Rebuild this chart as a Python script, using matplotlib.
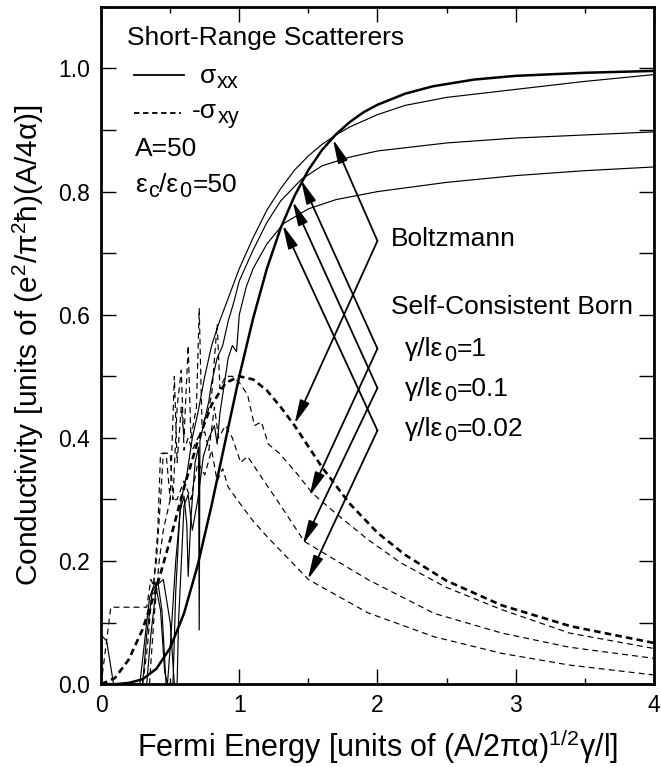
import matplotlib
matplotlib.use("Agg")
from matplotlib import pyplot as plt
from matplotlib.ticker import MultipleLocator
from matplotlib.transforms import offset_copy

plt.rcParams['font.family'] = ['Liberation Sans', 'DejaVu Sans']
plt.rcParams['mathtext.fontset'] = 'custom'
plt.rcParams['mathtext.rm'] = 'Liberation Sans'
plt.rcParams['mathtext.it'] = 'Liberation Sans'

# Boltzmann
boltz_xx_x = [0.0, 0.1, 0.2, 0.3, 0.4, 0.5, 0.6, 0.7, 0.8, 0.9, 1.0, 1.1, 1.2, 1.3, 1.4, 1.5,
              1.6, 1.7, 1.8, 1.9, 2.0, 2.2, 2.4, 2.7, 3.0, 3.5, 4.0]
boltz_xx_y = [0.0, 0.0, 0.002, 0.008, 0.025, 0.059, 0.115, 0.194, 0.291, 0.396, 0.5, 0.594, 0.675,
              0.741, 0.793, 0.835, 0.868, 0.893, 0.913, 0.929, 0.941, 0.959, 0.971, 0.982, 0.988,
              0.993, 0.996]
boltz_xy_x = [0.0, 0.1, 0.2, 0.3, 0.4, 0.5, 0.6, 0.7, 0.8, 0.9, 1.0, 1.1, 1.2, 1.3, 1.4, 1.5,
              1.6, 1.8, 2.0, 2.2, 2.5, 2.9, 3.4, 4.0]
boltz_xy_y = [0.0, 0.01, 0.04, 0.089, 0.156, 0.235, 0.319, 0.395, 0.454, 0.489, 0.5, 0.495, 0.477,
              0.45, 0.42, 0.386, 0.352, 0.293, 0.246, 0.21, 0.168, 0.128, 0.094, 0.067]

# Self-consistent Born, sigma_xx
scba_xx1_x = [0.28, 0.31, 0.35, 0.39, 0.43, 0.46, 0.48, 0.50, 0.54, 0.58, 0.62, 0.66, 0.70, 0.75,
              0.80, 0.85, 0.90, 0.95, 1.00, 1.10, 1.20, 1.30, 1.40, 1.50, 1.60, 1.70, 1.80, 2.00,
              2.20, 2.50, 3.00, 3.50, 4.00]
scba_xx1_y = [0.0, 0.06, 0.14, 0.166, 0.12, 0.02, 0.0, 0.06, 0.2, 0.3, 0.34, 0.40, 0.44, 0.50,
              0.55, 0.585, 0.615, 0.645, 0.675, 0.725, 0.77, 0.805, 0.835, 0.858, 0.877, 0.892, 0.905,
              0.925, 0.94, 0.953, 0.966, 0.979, 0.99]
scba_xx2_x = [0.0, 0.04, 0.09, 0.30, 0.33, 0.37, 0.41, 0.44, 0.47, 0.52, 0.54, 0.57, 0.60, 0.62,
              0.63, 0.65, 0.68, 0.705, 0.71, 0.715, 0.75, 0.78, 0.80, 0.84, 0.88, 0.92, 0.96, 1.00,
              1.10, 1.20, 1.30, 1.45, 1.60, 1.80, 2.00, 2.50, 3.00, 3.50, 4.00]
scba_xx2_y = [0.08, 0.07, 0.0, 0.0, 0.08, 0.15, 0.167, 0.12, 0.0, 0.0, 0.15, 0.28, 0.305, 0.26,
              0.175, 0.27, 0.36, 0.385, 0.088, 0.395, 0.43, 0.46, 0.49, 0.53, 0.55, 0.59, 0.62, 0.655,
              0.705, 0.75, 0.785, 0.82, 0.842, 0.856, 0.866, 0.879, 0.887, 0.892, 0.897]
scba_xx3_x = [0.33, 0.36, 0.40, 0.45, 0.50, 0.53, 0.55, 0.56, 0.60, 0.63, 0.66, 0.70, 0.74, 0.78,
              0.82, 0.84, 0.86, 0.90, 0.92, 0.95, 0.98, 1.00, 1.05, 1.10, 1.20, 1.32, 1.50, 1.70,
              2.00, 2.50, 3.00, 3.50, 4.00]
scba_xx3_y = [0.0, 0.08, 0.16, 0.17, 0.1, 0.0, 0.0, 0.1, 0.29, 0.308, 0.25, 0.30, 0.37, 0.40,
              0.42, 0.39, 0.44, 0.50, 0.53, 0.55, 0.54, 0.60, 0.645, 0.675, 0.715, 0.748, 0.772, 0.787,
              0.80, 0.815, 0.826, 0.834, 0.84]

# Self-consistent Born, -sigma_xy
scba_xy1_x = [0.0, 0.07, 0.33, 0.36, 0.38, 0.41, 0.43, 0.47, 0.50, 0.53, 0.55, 0.58, 0.60, 0.63,
              0.65, 0.69, 0.71, 0.73, 0.77, 0.80, 0.84, 0.86, 0.90, 0.95, 1.00, 1.06, 1.11, 1.16,
              1.21, 1.29, 1.41, 1.53, 1.69, 1.93, 2.17, 2.49, 2.90, 3.39, 4.00]
scba_xy1_y = [0.0, 0.125, 0.125, 0.17, 0.16, 0.25, 0.375, 0.375, 0.30, 0.50, 0.36, 0.45, 0.40, 0.55,
              0.40, 0.45, 0.61, 0.42, 0.44, 0.47, 0.585, 0.48, 0.50, 0.50, 0.49, 0.47, 0.42, 0.426,
              0.39, 0.375, 0.344, 0.31, 0.279, 0.235, 0.197, 0.158, 0.121, 0.083, 0.058]
scba_xy2_x = [0.30, 0.33, 0.37, 0.40, 0.43, 0.45, 0.50, 0.52, 0.55, 0.58, 0.60, 0.63, 0.66, 0.70,
              0.75, 0.78, 0.82, 0.85, 0.90, 0.95, 1.01, 1.06, 1.17, 1.30, 1.47, 1.93, 2.41, 2.90,
              3.39, 4.00]
scba_xy2_y = [0.0, 0.05, 0.15, 0.2, 0.3, 0.375, 0.375, 0.3, 0.45, 0.51, 0.38, 0.40, 0.38, 0.40,
              0.41, 0.38, 0.45, 0.40, 0.42, 0.40, 0.36, 0.37, 0.333, 0.29, 0.232, 0.17, 0.115, 0.083,
              0.06, 0.042]
scba_xy3_x = [0.35, 0.38, 0.42, 0.45, 0.50, 0.55, 0.60, 0.65, 0.70, 0.75, 0.80, 0.84, 0.88, 0.92,
              1.00, 1.10, 1.20, 1.35, 1.50, 1.93, 2.41, 2.90, 3.39, 4.00]
scba_xy3_y = [0.0, 0.1, 0.2, 0.25, 0.3, 0.3, 0.33, 0.30, 0.36, 0.34, 0.38, 0.33, 0.35, 0.32,
              0.295, 0.265, 0.24, 0.205, 0.17, 0.116, 0.077, 0.05, 0.031, 0.015]

# label brackets: vertex height and the two arrow tips (sigma_xx, -sigma_xy)
vertex_y = [0.72, 0.545, 0.481, 0.412]
tip_xx = [(1.678, 0.885), (1.447, 0.819), (1.387, 0.784), (1.314, 0.746)]
tip_xy = [(1.40, 0.4225), (1.508, 0.3056), (1.46, 0.2268), (1.496, 0.17)]
gamma_vals = ["1", "0.1", "0.02"]

fig = plt.figure(figsize=(6.61, 7.67), dpi=100)
ax = fig.add_axes([0.153, 0.108, 0.836, 0.883])
renderer = fig.canvas.get_renderer()


def rich(x, y, parts, fs):
    # parts: (string, size factor, baseline shift in points)
    xoff = 0.0
    for s, k, dy in parts:
        tr = offset_copy(ax.transData, fig=fig, x=xoff, y=dy, units='points')
        t = ax.text(x, y, s, fontsize=fs * k, transform=tr)
        xoff += t.get_window_extent(renderer).width * 72 / fig.dpi + 0.6


ax.plot(boltz_xx_x, boltz_xx_y, color='black', lw=1.8)
ax.plot(boltz_xy_x, boltz_xy_y, color='black', lw=1.9, linestyle=(0, (2.5, 1.6)))
for xs, ys in [(scba_xx1_x, scba_xx1_y), (scba_xx2_x, scba_xx2_y), (scba_xx3_x, scba_xx3_y)]:
    ax.plot(xs, ys, color='black', lw=0.85)
for xs, ys in [(scba_xy1_x, scba_xy1_y), (scba_xy2_x, scba_xy2_y), (scba_xy3_x, scba_xy3_y)]:
    ax.plot(xs, ys, color='black', lw=0.85, linestyle=(0, (5, 3.5)))

arrow = dict(arrowstyle='-|>,head_length=0.8,head_width=0.17', mutation_scale=18,
             color='black', lw=1.3, shrinkA=0, shrinkB=0)
for vy, txx, txy in zip(vertex_y, tip_xx, tip_xy):
    ax.annotate('', xy=txx, xytext=(2.0, vy), arrowprops=arrow)
    ax.annotate('', xy=txy, xytext=(2.0, vy), arrowprops=arrow)

fs = 19
sub = (0.82, -3.6)
ax.text(2.10, 0.711, "Boltzmann", fontsize=fs)
ax.text(2.10, 0.602, "Self-Consistent Born", fontsize=fs)
for g, yb in zip(gamma_vals, [0.533, 0.468, 0.403]):
    rich(2.20, yb, [("γ/lε", 1, 0), ("0", *sub), ("=" + g, 1, 0)], fs)

ax.text(0.189, 1.0375, "Short-Range Scatterers", fontsize=fs)
ax.plot([0.24, 0.60], [0.989, 0.989], color='black', lw=1.3)
rich(0.713, 0.977, [("σ", 1, 0), ("xx", *sub)], fs)
ax.plot([0.24, 0.575], [0.928, 0.928], color='black', lw=1.3, linestyle=(0, (3, 2)))
rich(0.66, 0.92, [("-σ", 1, 0), ("xy", *sub)], fs)
ax.text(0.247, 0.858, "A=50", fontsize=fs)
rich(0.247, 0.80, [("ε", 1, 0), ("c", *sub), ("/ε", 1, 0), ("0", *sub), ("=50", 1, 0)], fs)

ax.set_xlim(0, 4)
ax.set_ylim(0, 1.1)
ax.xaxis.set_major_locator(MultipleLocator(1))
ax.xaxis.set_minor_locator(MultipleLocator(0.5))
ax.yaxis.set_major_locator(MultipleLocator(0.2))
ax.yaxis.set_minor_locator(MultipleLocator(0.1))
ax.set_yticklabels([f"{v:.1f}" for v in ax.get_yticks()])
ax.tick_params(which='both', direction='in', top=True, right=True, width=1, labelsize=16.5)
ax.tick_params(axis='x', which='major', length=11, pad=7)
ax.tick_params(axis='x', which='minor', length=4.5)
ax.tick_params(axis='y', which='both', length=11, pad=8)
for s in ax.spines.values():
    s.set_linewidth(2)

ax.set_xlabel("Fermi Energy [units of (A/2πα)$\\mathregular{^{1/2}}$γ/l]", fontsize=22, labelpad=7)
ax.set_ylabel("Conductivity [units of (e$\\mathregular{^2}$/π$\\mathregular{^2}$ħ)(A/4α)]",
              fontsize=21.5, labelpad=9)

fig.savefig("out.png", dpi=100)
